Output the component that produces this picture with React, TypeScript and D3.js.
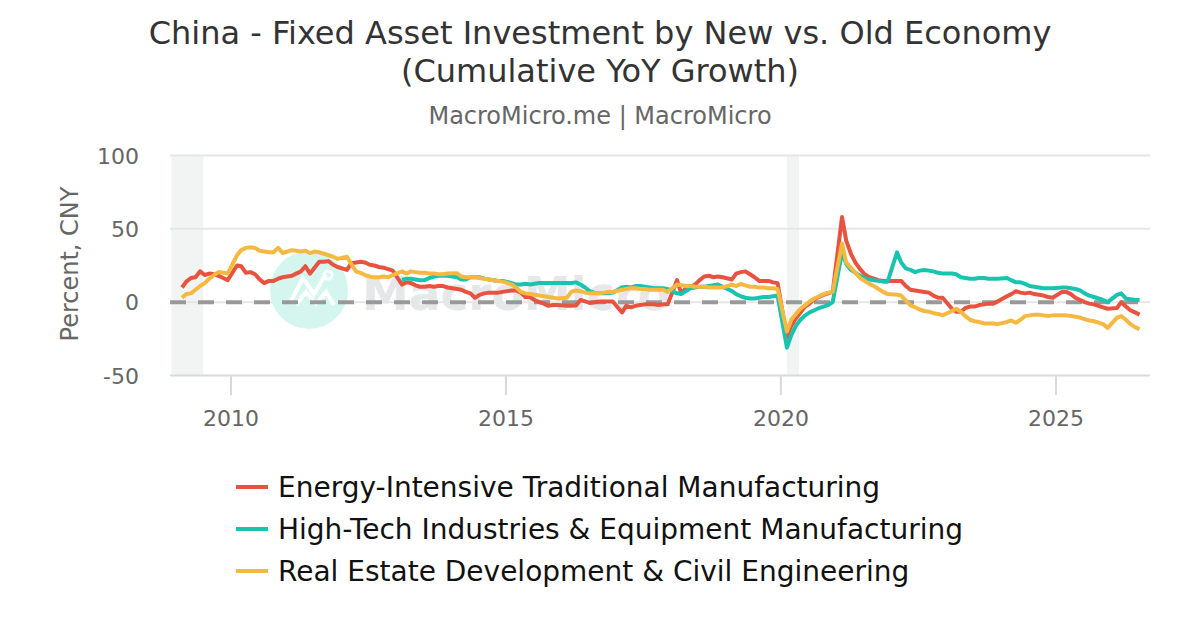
import * as d3 from "d3";

const years = d3.range(2009, 2027);
// monthly figures, no January print (Feb..Dec each year), last point is Jul 2026
const dates = years.flatMap((y) =>
  d3.range(1, y === 2026 ? 7 : 12).map((m) => new Date(y, m, 10)),
);

const energy = [
  10, 14, 16.5, 17, 21, 18.5, 19.5, 19, 18, 16.5, 15,
  25, 24.5, 20, 20.5, 19, 15.5, 13, 14.5, 14.5, 16, 17,
  18, 19.5, 21, 24.5, 19.5, 23.5, 27.5, 27.5, 28, 25.5, 24,
  22, 26.5, 27, 27.5, 27, 25.5, 25, 24, 23.5, 22.5, 21.5,
  12, 13.5, 13, 11.5, 10.5, 10.5, 11, 10.5, 11, 11, 10,
  9, 8.5, 7, 6, 3, 5, 6, 6.5, 6.5, 6.5, 7,
  8, 8, 6.5, 3.5, 3.5, 1.5, 0, -1, -2.5, -2, -2,
  -2.5, -2.5, -2.2, 1.5, 0.5, -0.5, 0, 0.5, 0.5, 0.5, 0.5,
  -7, -2.5, -3.5, -2.5, -2, -1.5, -1.5, -1.5, -2, -1.5, -1.5,
  15, 6, 9.5, 10, 12, 15, 17.5, 18, 17, 17.5, 17,
  15.5, 19.5, 20.5, 21, 19, 17, 14.5, 14.5, 14.5, 13.5, 13,
  -24, -16, -11, -7, -3, -1, 2, 3.5, 5, 6, 7,
  58, 42, 33, 27, 22.5, 19, 17, 16, 15, 14.5, 14.5,
  14.5, 14.5, 11, 8.5, 8, 7.5, 7, 6.5, 4.5, 3, 3,
  -4.5, -6.5, -6.5, -4, -3, -3, -2, -1.5, -1, -1, 0.5,
  4, 5.5, 7.5, 6.5, 6, 6.5, 5.5, 5, 4.5, 3.5, 3,
  7, 7, 5.5, 3, 1.5, 0, -1, -1.5, -2.5, -3.5, -4.5,
  -4, 0, -3, -5.5, -7, -8.5,
];

const highTech = [
  ...d3.range(44).map(() => null),
  15, 16, 16, 15.5, 15, 15, 16.5, 17.5, 18, 18, 18,
  17, 15.5, 15.5, 17, 17, 17, 16, 15.5, 15, 14.5, 14.5,
  13, 12, 12, 12.5, 12, 12.5, 13, 13, 13, 13, 13,
  13, 13, 13.5, 12, 10, 7.5, 6.5, 6, 6, 6, 6.5,
  10, 10.5, 10, 11, 11, 10.5, 10, 9.5, 9.5, 9.5, 9,
  6, 5.5, 7.5, 9.5, 10, 10.5, 10.5, 11, 11.5, 12, 10.5,
  7.5, 5.5, 4, 3, 2.5, 2.5, 3, 3.5, 3.5, 4, 4.5,
  -31, -22.5, -16, -12, -9, -7, -5.5, -4, -3, -2, 0,
  34, 26, 22, 20, 18, 16.5, 15.5, 15, 14.5, 14, 14,
  34, 27, 23, 22, 20.5, 21.5, 22, 21.5, 21, 20, 19.5,
  19.5, 19, 17, 16.5, 16, 16, 16.5, 16.5, 16, 16, 16,
  16.5, 15, 13.5, 13.5, 12.5, 11, 10.5, 10, 9.5, 9.5, 9.5,
  10, 10, 9.5, 9, 8, 6, 4.5, 3.5, 2.5, 1.5, 0,
  5, 6, 2.5, 2, 1.5, 1.5,
];

const realEstate = [
  3, 5.5, 6, 8.5, 11, 13, 16, 18.5, 20.5, 20, 19.5,
  32, 35.5, 37, 37.5, 37, 35, 34.5, 34, 34, 37, 33.5,
  35.5, 35, 34.5, 35, 33.5, 34.5, 34, 33, 32, 31, 29.5,
  31, 26, 21, 20, 18.5, 17.5, 17, 17, 17.5, 17, 18.5,
  21, 19.5, 21, 20.5, 20, 20, 19.5, 19.5, 19, 19, 19.5,
  19.8, 17.5, 17, 17, 17, 16.5, 16, 15.5, 15, 14.5, 14,
  12, 10, 7, 6, 5.5, 5, 4.5, 4, 3.5, 3, 2.5,
  3, 7, 8, 7.5, 6.5, 6, 6, 6, 6.5, 7, 7,
  8.5, 9, 9.5, 9.5, 9, 9, 8.5, 8.5, 8.5, 8.5, 7,
  12, 11.5, 11, 11, 10.5, 10.5, 10.5, 10, 10, 10, 10,
  12, 11, 12.5, 11.5, 10.5, 10.5, 10, 10, 9.5, 9.5, 9,
  -20, -12, -8, -4.5, -2, 0.5, 2.5, 4, 5.5, 6.5, 7,
  40, 27, 23.5, 20, 16.5, 14.5, 12.5, 11, 9, 7, 5.5,
  5, 4.5, 1, -2, -3.5, -5, -6, -6.5, -7.5, -8, -9,
  -6, -4.5, -6.5, -9.5, -12, -13, -13.5, -14.5, -14.5, -14.5, -15,
  -13.5, -12.5, -14, -12, -9.5, -9, -8.5, -8.5, -9, -9.5, -9,
  -9, -9, -9.5, -10, -10.5, -11.5, -12.5, -13, -14, -15, -17.5,
  -10.5, -9.5, -12, -15, -17, -18.5,
];

const seriesNames = [
  "Energy-Intensive Traditional Manufacturing",
  "High-Tech Industries & Equipment Manufacturing",
  "Real Estate Development & Civil Engineering",
];
const seriesValues = [energy, highTech, realEstate];
const seriesColors = ["#e8533f", "#18c4b0", "#f5b942"];

const yTicks = [-50, 0, 50, 100];
const xTickYears = [2010, 2015, 2020, 2025];
const recessions = [
  [new Date(2008, 11, 1), new Date(2009, 6, 1)],
  [new Date(2020, 1, 10), new Date(2020, 4, 1)],
];

const font = "'DejaVu Sans', sans-serif";

const x = d3
  .scaleTime()
  .domain([new Date(2010, 0, 1), new Date(2025, 0, 1)])
  .range([231, 1056]);
const y = d3.scaleLinear().domain([-50, 100]).range([375.5, 155.5]);

const lineGen = d3
  .line<number | null>()
  .defined((d) => d !== null)
  .x((_, i) => x(dates[i]))
  .y((d) => y(d as number));

export default function App() {
  return (
    <svg
      width={1200}
      height={630}
      style={{ position: "absolute", left: 0, top: 0, background: "#fff" }}
      fontFamily={font}
    >
      <text x={600} y={44} textAnchor="middle" fontSize={32} fill="#333">
        China - Fixed Asset Investment by New vs. Old Economy
      </text>
      <text x={600} y={82} textAnchor="middle" fontSize={32} fill="#333">
        (Cumulative YoY Growth)
      </text>
      <text x={600} y={124} textAnchor="middle" fontSize={24} fill="#666">
        MacroMicro.me | MacroMicro
      </text>

      {recessions.map(([a, b], i) => (
        <rect
          key={i}
          x={x(a)}
          y={155}
          width={x(b) - x(a)}
          height={220}
          fill="#f2f4f3"
        />
      ))}

      {yTicks.map((t) => (
        <g key={t}>
          <line
            x1={170}
            x2={1150}
            y1={y(t)}
            y2={y(t)}
            stroke={t === -50 ? "#d9d9d9" : "#e6e6e6"}
            strokeWidth={2}
          />
          <text
            x={139}
            y={y(t) + 8}
            textAnchor="end"
            fontSize={22}
            fill="#666"
          >
            {t}
          </text>
        </g>
      ))}

      {xTickYears.map((yr) => {
        const px = x(new Date(yr, 0, 1));
        return (
          <g key={yr}>
            <line
              x1={px}
              x2={px}
              y1={375}
              y2={395}
              stroke="#d9d9d9"
              strokeWidth={2}
            />
            <text
              x={px}
              y={426}
              textAnchor="middle"
              fontSize={22}
              fill="#666"
            >
              {yr}
            </text>
          </g>
        );
      })}

      <text
        transform={`translate(78,264) rotate(-90)`}
        textAnchor="middle"
        fontSize={24}
        fill="#666"
      >
        Percent, CNY
      </text>

      {/* watermark */}
      <g>
        <circle cx={309} cy={290} r={39} fill="#d4f6ef" />
        <polyline
          points="290,303 303,278 314,294 326,274"
          fill="none"
          stroke="#fff"
          strokeWidth={4}
        />
        <polyline
          points="296,305 306,292 316,304 326,292 334,305"
          fill="none"
          stroke="#fff"
          strokeWidth={4}
        />
        <circle cx={328} cy={275} r={4} fill="none" stroke="#fff" strokeWidth={3} />
        <text x={362} y={310} fontSize={47} fontWeight="bold" fill="#e6e7e9">
          MacroMicro
        </text>
      </g>

      <line
        x1={170}
        x2={1150}
        y1={y(0)}
        y2={y(0)}
        stroke="#999"
        strokeWidth={4}
        strokeDasharray="16 12"
      />

      {seriesValues.map((vals, i) => (
        <path
          key={seriesNames[i]}
          d={lineGen(vals) ?? ""}
          fill="none"
          stroke={seriesColors[i]}
          strokeWidth={4}
          strokeLinejoin="round"
        />
      ))}

      {seriesNames.map((name, i) => (
        <g key={name} transform={`translate(0,${487 + i * 42})`}>
          <line x1={236} x2={268} stroke={seriesColors[i]} strokeWidth={4} />
          <text x={278} y={10} fontSize={28} fill="#111">
            {name}
          </text>
        </g>
      ))}
    </svg>
  );
}
